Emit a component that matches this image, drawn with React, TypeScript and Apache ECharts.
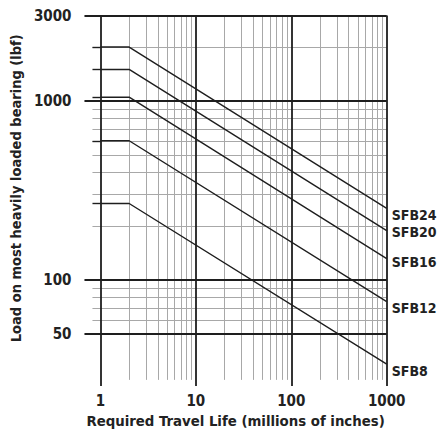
import React, { useEffect, useRef } from "react";
import * as echarts from "echarts";

// Bearing series
const seriesNames = ["SFB24", "SFB20", "SFB16", "SFB12", "SFB8"];
// Travel life points (millions of inches): start, knee, end
const lifePoints = [1, 2, 1000];
// Load (lbf) at start/knee (flat part) and at 1000 million inches
const loadsFlat = [2000, 1500, 1050, 600, 268];
const loadsEnd = [252, 189, 132, 76, 34];

// Grid lines
const xMajor = [1, 10, 100, 1000];
const xMinor = [2, 3, 4, 5, 6, 7, 8, 9, 20, 30, 40, 50, 60, 70, 80, 90, 200, 300, 400, 500, 600, 700, 800, 900];
const yMajor = [50, 100, 1000, 3000];
const yMinor = [60, 70, 80, 90, 200, 300, 400, 500, 600, 700, 800, 900, 2000];

// Tick labels
const xTickLabels = [1, 10, 100, 1000];
const yTickLabels = [50, 100, 1000, 3000];

// Axis extents (log space drawn on value axes)
const xMin = 0.68;
const xMax = 1000;
const yMin = 25.7;
const yMax = 3000;
const minorXStart = 0.825; // short ticks left of the axis
const minorYBottom = 27.8;

const labelDy = [6.5, 1.7, 3.6, 5.9, 6.6];

const FONT = '"DejaVu Sans Condensed", "Liberation Sans Narrow", "Liberation Sans", sans-serif';
const L = (v: number) => Math.log10(v);

export default function App() {
  const ref = useRef<HTMLDivElement>(null);

  useEffect(() => {
    if (!ref.current) return;
    const chart = echarts.init(ref.current, undefined, { renderer: "svg" });

    const BLACK = "#1e1e1e";
    const GRAY = "#a8a8a8";
    const seg = (x0: number, y0: number, x1: number, y1: number, color: string, width: number) => [
      { coord: [L(x0), L(y0)], lineStyle: { color, width, type: "solid" } },
      { coord: [L(x1), L(y1)] },
    ];

    const gridLines: any[] = [];
    xMinor.forEach((x) => gridLines.push(seg(x, minorYBottom, x, yMax, GRAY, 1)));
    yMinor.forEach((y) => gridLines.push(seg(minorXStart, y, xMax, y, GRAY, 1)));
    loadsFlat.forEach((y) => gridLines.push(seg(minorXStart, y, 1, y, BLACK, 1.4)));
    yMajor.forEach((y) => gridLines.push(seg(xMin, y, xMax, y, BLACK, 1.8)));
    xMajor.forEach((x) => gridLines.push(seg(x, yMin, x, yMax, BLACK, 1.8)));

    const lineSeries = seriesNames.map((name, i) => ({
      name,
      type: "line",
      z: 3,
      symbol: "none",
      silent: true,
      data: [
        [L(lifePoints[0]), L(loadsFlat[i])],
        [L(lifePoints[1]), L(loadsFlat[i])],
        [L(lifePoints[2]), L(loadsEnd[i])],
      ],
      lineStyle: { color: BLACK, width: 1.4 },
      endLabel: {
        show: true,
        formatter: name,
        distance: 5,
        offset: [0, labelDy[i]],
        fontFamily: FONT,
        fontWeight: "bold",
        fontSize: 14,
        color: "#222",
      },
    }));

    const axisLabelStyle = {
      fontFamily: FONT,
      fontWeight: "bold" as const,
      fontSize: 15,
      color: "#222",
    };

    chart.setOption({
      animation: false,
      grid: { left: 84, right: 52.3, top: 15.5, bottom: 48, containLabel: false },
      xAxis: {
        type: "value",
        min: L(xMin),
        max: L(xMax),
        axisLine: { show: false },
        axisTick: { show: false },
        splitLine: { show: false },
        axisLabel: {
          ...axisLabelStyle,
          margin: 7,
          customValues: xTickLabels.map(L),
          formatter: (v: number) => String(Math.round(Math.pow(10, v))),
        },
        name: "Required Travel Life (millions of inches)",
        nameLocation: "middle",
        nameGap: 24,
        nameTextStyle: { fontFamily: FONT, fontWeight: "bold", fontSize: 14.8, color: "#222" },
      },
      yAxis: {
        type: "value",
        min: L(yMin),
        max: L(yMax),
        axisLine: { show: false },
        axisTick: { show: false },
        splitLine: { show: false },
        axisLabel: {
          ...axisLabelStyle,
          margin: 13,
          customValues: yTickLabels.map(L),
          formatter: (v: number) => String(Math.round(Math.pow(10, v))),
        },
        name: "Load on most heavily loaded bearing (lbf)",
        nameLocation: "middle",
        nameGap: 58,
        nameTextStyle: {
          fontFamily: FONT,
          fontWeight: "bold",
          fontSize: 14.5,
          color: "#222",
          padding: [0, 0, 0, 25],
        },
      },
      series: [
        {
          type: "line",
          data: [],
          silent: true,
          markLine: {
            z: 1,
            silent: true,
            symbol: ["none", "none"],
            label: { show: false },
            emphasis: { disabled: true },
            data: gridLines,
          },
        },
        ...lineSeries,
      ],
    });

    return () => chart.dispose();
  }, []);

  return (
    <div
      ref={ref}
      style={{ position: "fixed", left: 0, top: 0, width: 439, height: 434, background: "#fff" }}
    />
  );
}
